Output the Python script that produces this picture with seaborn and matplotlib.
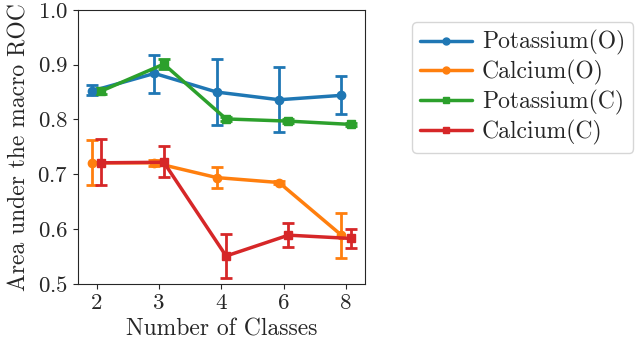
import numpy as np
import matplotlib
matplotlib.use("Agg")
import matplotlib.pyplot as plt
from matplotlib.lines import Line2D
import seaborn as sns

# x categories
classes = ["2", "3", "4", "6", "8"]

# mean AUC and error bar ends (low, high)
potassium_o = [0.852, 0.884, 0.850, 0.836, 0.844]
potassium_o_lo = [0.845, 0.848, 0.790, 0.777, 0.810]
potassium_o_hi = [0.862, 0.918, 0.910, 0.896, 0.879]

calcium_o = [0.721, 0.721, 0.694, 0.685, 0.589]
calcium_o_lo = [0.680, 0.715, 0.675, 0.682, 0.547]
calcium_o_hi = [0.763, 0.726, 0.713, 0.688, 0.629]

potassium_c = [0.852, 0.901, 0.801, 0.797, 0.791]
potassium_c_lo = [0.846, 0.892, 0.798, 0.794, 0.788]
potassium_c_hi = [0.858, 0.910, 0.804, 0.800, 0.794]

calcium_c = [0.721, 0.722, 0.551, 0.589, 0.583]
calcium_c_lo = [0.680, 0.695, 0.510, 0.568, 0.565]
calcium_c_hi = [0.764, 0.751, 0.591, 0.611, 0.601]

labels = ["Potassium(O)", "Calcium(O)", "Potassium(C)", "Calcium(C)"]

sns.set_style("ticks")
plt.rcParams["font.family"] = ["cmr10", "DejaVu Serif"]
plt.rcParams["axes.formatter.use_mathtext"] = True
plt.rcParams["font.size"] = 16.5

palette = sns.color_palette("tab10")

fig = plt.figure(figsize=(6.4, 3.51), dpi=100)
ax = fig.add_axes([0.122, 0.191, 0.448, 0.781])

x = np.arange(len(classes))
series = [
    (potassium_o, potassium_o_lo, potassium_o_hi, "o", -0.075),
    (calcium_o, calcium_o_lo, calcium_o_hi, "o", -0.075),
    (potassium_c, potassium_c_lo, potassium_c_hi, "s", 0.075),
    (calcium_c, calcium_c_lo, calcium_c_hi, "s", 0.075),
]

handles = []
for i, (mean, lo, hi, marker, off) in enumerate(series):
    mean = np.array(mean)
    err = [mean - np.array(lo), np.array(hi) - mean]
    ax.errorbar(x + off, mean, yerr=err, color=palette[i], marker=marker,
                markersize=6, linewidth=2.5, elinewidth=2, capsize=4,
                capthick=2)
    handles.append(Line2D([], [], color=palette[i], marker=marker,
                          markersize=5, linewidth=2.5, label=labels[i]))

ax.set_xticks(x)
ax.set_xticklabels(classes)
ax.set_xlim(-0.3, 4.3)
ax.set_ylim(0.5, 1.0)
ax.set_yticks([0.5, 0.6, 0.7, 0.8, 0.9, 1.0])
ax.set_xlabel("Number of Classes", fontsize=17)
ax.set_ylabel("Area under the macro ROC", fontsize=17, labelpad=5)

fig.legend(handles=handles, loc="upper left", bbox_to_anchor=(0.644, 0.937),
           borderaxespad=0, frameon=True, fontsize=17, handlelength=2.2,
           borderpad=0.35, labelspacing=0.2, handletextpad=0.4)

fig.savefig("out.png", dpi=100)
